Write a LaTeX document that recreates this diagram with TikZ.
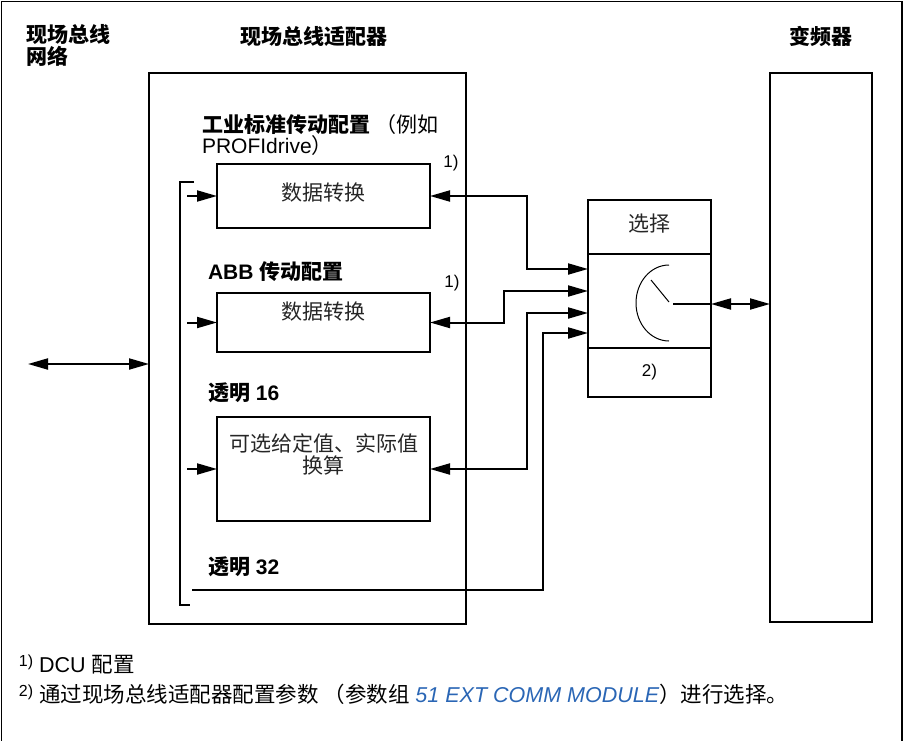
\documentclass[tikz,border=0pt]{standalone}
\usepackage{fontspec}
\setmainfont{Liberation Sans}
\newfontfamily\cjk{Noto Sans CJK SC}
\usepackage{xcolor}
\usepackage{tikz}
\usetikzlibrary{arrows.meta, positioning, calc}

\definecolor{linkblue}{RGB}{42,102,181}
\newcommand{\zh}[1]{{\cjk #1}}
\newcommand{\fnmark}[1]{{\fontsize{16}{16}\selectfont\raisebox{6pt}{#1}}}

\begin{document}
\begin{tikzpicture}[
        x=1pt, y=-1pt,
        every node/.style={inner sep=0pt, outer sep=0pt},
        framebox/.style={draw=black, line width=2pt, fill=none},
        convbox/.style={framebox, minimum width=213pt},
        selbox/.style={framebox, minimum width=123pt},
        headtext/.style={font=\fontsize{21}{20}\selectfont\bfseries, align=left},
        labeltext/.style={anchor=west, font=\fontsize{21}{21}\selectfont, align=left},
        boxtext/.style={font=\fontsize{21}{22}\selectfont, text=black!85, align=center},
        notetext/.style={font=\fontsize{17}{17}\selectfont},
        arrowstyle/.style={-{Triangle[length=20pt, width=11pt]}, line width=2pt},
        bothstyle/.style={{Triangle[length=20pt, width=11pt]}-{Triangle[length=20pt, width=11pt]}, line width=2pt}
    ]
        \useasboundingbox (0,0) rectangle (905,741);
        % outer frame
        \draw[line width=1.5pt] (1.5,741) -- (1.5,1.5) -- (902,1.5) -- (902,741);

        % headings
        \node[headtext, anchor=west] (hnet) at (27,45.5) {\zh{现场总线}\\\zh{网络}};
        \node[headtext] (hadapter) at (314,36) {\zh{现场总线适配器}};
        \node[headtext] (hdrive) at (821,36) {\zh{变频器}};

        % main blocks
        \node[framebox, minimum width=317pt, minimum height=551pt] (adapter) at (307.5,348.5) {};
        \node[framebox, minimum width=102pt, minimum height=549pt] (drive) at (821,347.5) {};

        % conversion boxes
        \node[convbox, minimum height=64pt] (conv1) at (323.5,196) {};
        \node[convbox, minimum height=59pt] (conv2) at (323.5,322.5) {};
        \node[convbox, minimum height=104pt] (conv3) at (323.5,469) {};
        \node[boxtext] (conv1txt) at (323.5,193) {\zh{数据转换}};
        \node[boxtext] (conv2txt) at (323.5,312) {\zh{数据转换}};
        \node[boxtext] (conv3txt) at (323.5,454) {\zh{可选给定值、实际值}\\\zh{换算}};

        % profile labels
        \node[labeltext] (lprof) at (202,135.5) {\textbf{\zh{工业标准传动配置}} \zh{（例如}\\PROFIdrive\zh{）}};
        \node[labeltext] (labb) at (208,272) {\textbf{ABB \zh{传动配置}}};
        \node[labeltext] (lt16) at (208,393) {\textbf{\zh{透明} 16}};
        \node[labeltext] (lt32) at (208,567) {\textbf{\zh{透明} 32}};
        \node[notetext] (n1a) at (451,163) {1)};
        \node[notetext] (n1b) at (452,283) {1)};

        % selector
        \node[selbox, minimum height=54pt] (seltop) at (649.5,227) {};
        \node[selbox, minimum height=94pt] (selmid) at (649.5,301) {};
        \node[selbox, minimum height=49pt] (selbot) at (649.5,372.5) {};
        \node[boxtext] (seltxt) at (649.5,224) {\zh{选择}};
        \node[notetext] (n2) at (649.5,372) {2)};
        \coordinate (pivot) at (673,304);
        \draw[line width=1pt] (669,265) arc[start angle=-90, end angle=-270, x radius=33, y radius=38];
        \draw[line width=1pt] (651,280) -- (669,302);
        \draw[line width=2pt] (pivot) -- (pivot -| selmid.east);

        % selector inputs
        \coordinate (in1) at (588,269);
        \coordinate (in2) at (588,291);
        \coordinate (in3) at (588,313);
        \coordinate (in4) at (588,333);
        \coordinate (t32) at (192,590);

        % left bus bracket
        \coordinate (bus) at (180,182);
        \draw[line width=2pt] (194,182) -- (bus) -- (180,605) -- (190,605);
        \draw[arrowstyle] ([xshift=7pt]bus |- conv1.west) -- (conv1.west);
        \draw[arrowstyle] ([xshift=7pt]bus |- conv2.west) -- (conv2.west);
        \draw[arrowstyle] ([xshift=7pt]bus |- conv3.west) -- (conv3.west);

        % connections to selector
        \draw[bothstyle] (conv1.east) -- ++(97,0) |- (in1);
        \draw[bothstyle] (conv2.east) -- ++(74,0) |- (in2);
        \draw[bothstyle] (conv3.east) -- ++(97,0) |- (in3);
        \draw[arrowstyle] (t32) -- (543,590) |- (in4);

        % network and drive links
        \coordinate (net) at (28,364);
        \draw[bothstyle] (net) -- (net -| adapter.west);
        \draw[bothstyle] (pivot -| selmid.east) -- (pivot -| drive.west);

        % footnotes
        \node[anchor=west, font=\fontsize{21.5}{21}\selectfont] (fn1) at (19,665) {\fnmark{1)} DCU \zh{配置}};
        \node[anchor=west, font=\fontsize{21.5}{21}\selectfont] (fn2) at (19,694) {\fnmark{2)} \zh{通过现场总线适配器配置参数 （参数组} \textcolor{linkblue}{\itshape 51 EXT COMM MODULE}\zh{）进行选择。}};
    \end{tikzpicture}
\end{document}
